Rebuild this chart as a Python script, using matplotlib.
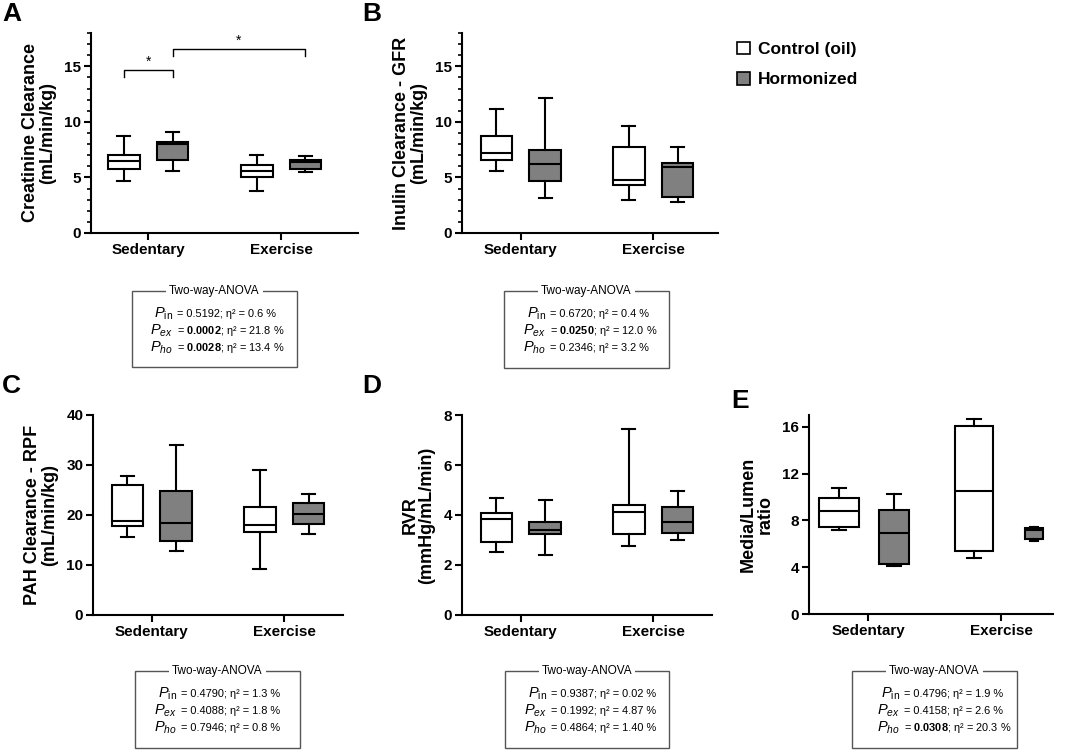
import matplotlib
matplotlib.use("Agg")
from matplotlib import pyplot as plt
from matplotlib.patches import Patch, Rectangle

plt.rcParams["font.family"] = ["Liberation Sans", "DejaVu Sans"]
plt.rcParams["mathtext.fontset"] = "custom"
plt.rcParams["mathtext.rm"] = "Liberation Sans"
plt.rcParams["mathtext.it"] = "Liberation Sans:italic"
plt.rcParams["mathtext.bf"] = "Liberation Sans:bold"

W, H = 1065, 752

groups = ["Sedentary", "Exercise"]
series = ["Control (oil)", "Hormonized"]
colors = ["white", "#808080"]

# five-number summaries per group: [whisker low, Q1, median, Q3, whisker high]
creatinine_control = [[4.64, 5.75, 6.5, 6.98, 8.74], [3.74, 5.06, 5.54, 6.08, 7.04]]
creatinine_hormon = [[5.6, 6.56, 8.0, 8.23, 9.13], [5.45, 5.78, 6.35, 6.56, 6.89]]

inulin_control = [[5.54, 6.53, 7.19, 8.74, 11.17], [2.96, 4.28, 4.79, 7.78, 9.64]]
inulin_hormon = [[3.17, 4.64, 6.23, 7.5, 12.13], [2.75, 3.2, 5.9, 6.32, 7.72]]

pah_control = [[15.67, 17.8, 18.87, 26.1, 27.8], [9.2, 16.6, 17.93, 21.6, 29.0]]
pah_hormon = [[12.87, 14.87, 18.47, 24.87, 33.93], [16.13, 18.2, 20.2, 22.47, 24.13]]

rvr_control = [[2.53, 2.91, 3.83, 4.07, 4.68], [2.77, 3.23, 4.13, 4.4, 7.45]]
rvr_hormon = [[2.41, 3.23, 3.41, 3.71, 4.59], [2.99, 3.28, 3.72, 4.32, 4.96]]

ml_control = [[7.17, 7.46, 8.8, 9.91, 10.8], [4.8, 5.34, 10.54, 16.03, 16.66]]
ml_hormon = [[4.09, 4.31, 6.89, 8.91, 10.29], [6.23, 6.37, 7.2, 7.34, 7.46]]

# two-way ANOVA rows: (factor, p value, bold, eta squared)
anova_a = [("in", "0.5192", False, "0.6"), ("ex", "0.0002", True, "21.8"), ("ho", "0.0028", True, "13.4")]
anova_b = [("in", "0.6720", False, "0.4"), ("ex", "0.0250", True, "12.0"), ("ho", "0.2346", False, "3.2")]
anova_c = [("in", "0.4790", False, "1.3"), ("ex", "0.4088", False, "1.8"), ("ho", "0.7946", False, "0.8")]
anova_d = [("in", "0.9387", False, "0.02"), ("ex", "0.1992", False, "4.87"), ("ho", "0.4864", False, "1.40")]
anova_e = [("in", "0.4796", False, "1.9"), ("ex", "0.4158", False, "2.6"), ("ho", "0.0308", True, "20.3")]


def fx(x):
    return x / W


def fy(y):
    return 1 - y / H


def make_axes(fig, left, top, right, bottom):
    return fig.add_axes([fx(left), fy(bottom), (right - left) / W, (bottom - top) / H])


def to_stats(five):
    return {"whislo": five[0], "q1": five[1], "med": five[2], "q3": five[3],
            "whishi": five[4], "fliers": []}


def draw_boxes(ax, control, hormon, positions=None, widths=None, capwidths=None):
    off = 0.184
    if positions is None:
        positions = [1 - off, 2 - off, 1 + off, 2 + off]
    if widths is None:
        widths = [0.24] * 4
    if capwidths is None:
        capwidths = [0.1] * 4
    stats = [to_stats(v) for v in control] + [to_stats(v) for v in hormon]
    for i, st in enumerate(stats):
        c = colors[0] if i < 2 else colors[1]
        ax.bxp([st], positions=[positions[i]], widths=[widths[i]], capwidths=[capwidths[i]],
               patch_artist=True, showfliers=False,
               boxprops=dict(facecolor=c, edgecolor="black", linewidth=1.5),
               medianprops=dict(color="black", linewidth=1.5),
               whiskerprops=dict(color="black", linewidth=1.5),
               capprops=dict(color="black", linewidth=1.5),
               manage_ticks=False)


def style_axes(ax, ylim, yticks, xlim, ylabel, minor=None):
    ax.set_ylim(*ylim)
    ax.set_xlim(*xlim)
    ax.set_yticks(yticks)
    ax.set_yticklabels([str(t) for t in yticks], fontsize=11, fontweight="bold")
    if minor is not None:
        ax.set_yticks(minor, minor=True)
    ax.set_xticks([1, 2])
    ax.set_xticklabels(groups, fontsize=11, fontweight="bold")
    for s in ["top", "right"]:
        ax.spines[s].set_visible(False)
    for s in ["left", "bottom"]:
        ax.spines[s].set_linewidth(1.5)
    ax.tick_params(axis="both", which="major", length=5, width=1.5, pad=2)
    ax.tick_params(axis="y", which="minor", length=3, width=1.2)
    ax.set_ylabel(ylabel, fontsize=13, fontweight="bold", linespacing=1.0, labelpad=6)


def anova_box(fig, left, top, right, bottom, split, rows):
    rect = Rectangle((fx(left), fy(bottom)), (right - left) / W, (bottom - top) / H,
                     transform=fig.transFigure, fill=False, edgecolor="#555555", linewidth=1.0)
    fig.patches.append(rect)
    fig.text(fx((left + right) / 2), fy(top), "Two-way-ANOVA", fontsize=8.5, ha="center", va="center",
             bbox=dict(facecolor="white", edgecolor="none", pad=2))
    ys = [top + 23, top + 40, top + 57]
    for (fac, p, bold, eta), y in zip(rows, ys):
        if fac == "in":
            lab = r"$P_{\mathrm{in}}$"
        else:
            lab = r"$P_{" + fac + "}$"
        fig.text(fx(split), fy(y), lab, fontsize=10.5, ha="right", va="center")
        pv = r"$\mathbf{" + p + "}$" if bold else p
        fig.text(fx(split + 4), fy(y), "= " + pv + "; η² = " + eta + " %", fontsize=7.9,
                 ha="left", va="center")


def main():
    fig = plt.figure(figsize=(W / 100, H / 100), dpi=100)

    # A
    ax = make_axes(fig, 91, 33, 358, 233)
    draw_boxes(ax, creatinine_control, creatinine_hormon)
    style_axes(ax, (0, 18), [0, 5, 10, 15], (0.571, 2.579),
               "Creatinine Clearance\n(mL/min/kg)", minor=list(range(0, 19)))
    ax.plot([0.816, 0.816, 1.184, 1.184], [14.07, 14.7, 14.7, 14.07], color="black", lw=1.0, clip_on=False)
    ax.text(1.0, 14.75, "*", ha="center", va="bottom", fontsize=10)
    ax.plot([1.184, 1.184, 2.184, 2.184], [15.9, 16.6, 16.6, 15.9], color="black", lw=1.0, clip_on=False)
    ax.text(1.684, 16.65, "*", ha="center", va="bottom", fontsize=10)

    # B
    ax = make_axes(fig, 462, 33, 718, 233)
    draw_boxes(ax, inulin_control, inulin_hormon)
    style_axes(ax, (0, 18), [0, 5, 10, 15], (0.556, 2.489),
               "Inulin Clearance - GFR\n(mL/min/kg)", minor=list(range(0, 19)))

    # C
    ax = make_axes(fig, 93, 415, 343, 615)
    draw_boxes(ax, pah_control, pah_hormon)
    style_axes(ax, (0, 40), [0, 10, 20, 30, 40], (0.556, 2.444),
               "PAH Clearance - RPF\n(mL/min/kg)")

    # D
    ax = make_axes(fig, 462, 415, 712, 615)
    draw_boxes(ax, rvr_control, rvr_hormon)
    style_axes(ax, (0, 8), [0, 2, 4, 6, 8], (0.556, 2.444),
               "RVR\n(mmHg/mL/min)")

    # E
    ax = make_axes(fig, 809, 415, 1053, 614)
    draw_boxes(ax, ml_control, ml_hormon,
               positions=[0.782, 1.797, 1.195, 2.248],
               widths=[0.3, 0.28, 0.23, 0.13],
               capwidths=[0.1, 0.1, 0.1, 0.06])
    style_axes(ax, (0, 17), [0, 4, 8, 12, 16], (0.556, 2.391),
               "Media/Lumen\nratio")

    # panel letters
    for letter, x, y in [("A", 2, 2), ("B", 362, 2), ("C", 2, 374), ("D", 362, 374), ("E", 731, 389)]:
        fig.text(fx(x), fy(y), letter, fontsize=19, fontweight="bold", ha="left", va="top")

    # legend
    handles = [Patch(facecolor=c, edgecolor="black", linewidth=1.2) for c in colors]
    fig.legend(handles, series, loc="upper left", bbox_to_anchor=(fx(721), fy(26)),
               frameon=False, prop=dict(size=12.5, weight="bold"),
               handlelength=0.75, handleheight=0.75, handletextpad=0.5, labelspacing=0.85)

    anova_box(fig, 132, 291, 297, 367, 173, anova_a)
    anova_box(fig, 504, 291, 669, 368, 546, anova_b)
    anova_box(fig, 135, 671, 300, 748, 177, anova_c)
    anova_box(fig, 505, 671, 669, 748, 547, anova_d)
    anova_box(fig, 852, 671, 1017, 748, 900, anova_e)

    fig.savefig("out.png", dpi=100)


if __name__ == "__main__":
    main()
